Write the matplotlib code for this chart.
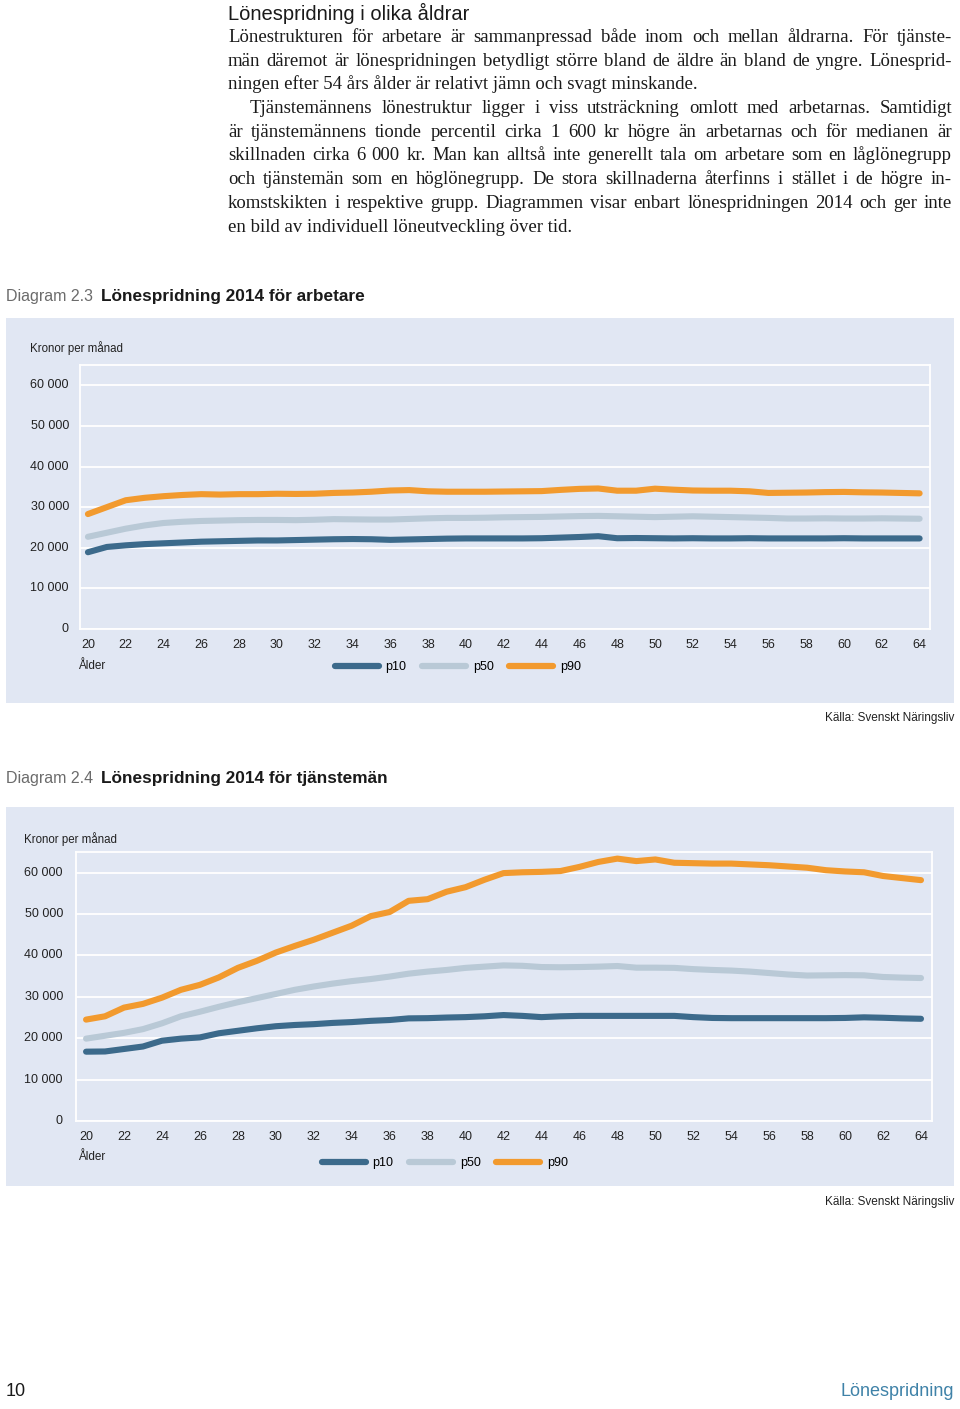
import matplotlib

matplotlib.use("Agg")
import matplotlib.pyplot as plt
from matplotlib.patches import Rectangle
from matplotlib.lines import Line2D

W, H = 960, 1409

AGES = list(range(20, 65))
XTICKS = list(range(20, 65, 2))
YTICKS = [0, 10000, 20000, 30000, 40000, 50000, 60000]
YTICK_LABELS = ["0", "10 000", "20 000", "30 000", "40 000", "50 000", "60 000"]
SERIES = ["p10", "p50", "p90"]

# Diagram 2.3 - arbetare
ARB_P10 = [18900, 20200, 20600, 20900, 21100, 21300, 21500, 21600, 21700, 21800,
           21800, 21900, 22000, 22100, 22150, 22100, 21950, 22050, 22150, 22250,
           22300, 22300, 22300, 22300, 22350, 22500, 22650, 22850, 22350, 22400,
           22350, 22300, 22350, 22300, 22300, 22350, 22300, 22300, 22300, 22300,
           22350, 22300, 22300, 22300, 22300]
ARB_P50 = [22700, 23700, 24700, 25500, 26100, 26400, 26600, 26700, 26800, 26850,
           26850, 26800, 26900, 27050, 27000, 26950, 26950, 27100, 27250, 27350,
           27350, 27400, 27500, 27550, 27600, 27700, 27800, 27850, 27750, 27650,
           27550, 27650, 27750, 27650, 27550, 27450, 27350, 27200, 27200, 27250,
           27200, 27200, 27250, 27200, 27150]
ARB_P90 = [28300, 30000, 31700, 32300, 32700, 33000, 33200, 33100, 33200, 33200,
           33300, 33250, 33300, 33500, 33600, 33800, 34100, 34200, 33900, 33800,
           33800, 33800, 33850, 33900, 33950, 34250, 34500, 34600, 34050, 34050,
           34550, 34300, 34100, 34050, 34050, 33900, 33500, 33550, 33600, 33700,
           33750, 33650, 33600, 33500, 33400]

# Diagram 2.4 - tjänstemän
TJM_P10 = [16750, 16800, 17400, 18000, 19400, 19900, 20200, 21200, 21800, 22400,
           22900, 23200, 23400, 23700, 23900, 24200, 24400, 24800, 24850, 25000,
           25100, 25300, 25600, 25400, 25100, 25300, 25400, 25400, 25400, 25400,
           25400, 25400, 25100, 24900, 24850, 24850, 24850, 24850, 24850, 24850,
           24900, 25050, 24950, 24800, 24700]
TJM_P50 = [19900, 20600, 21300, 22200, 23600, 25300, 26400, 27600, 28700, 29700,
           30700, 31700, 32500, 33200, 33800, 34300, 34900, 35600, 36100, 36500,
           37000, 37300, 37600, 37500, 37200, 37150, 37200, 37300, 37450, 37050,
           37050, 37000, 36700, 36500, 36350, 36100, 35750, 35400, 35150, 35200,
           35250, 35200, 34800, 34650, 34550]
TJM_P90 = [24500, 25300, 27400, 28300, 29800, 31700, 32900, 34700, 37000, 38700,
           40700, 42300, 43800, 45500, 47200, 49500, 50500, 53200, 53600, 55400,
           56500, 58300, 59900, 60100, 60200, 60400, 61400, 62600, 63400, 62800,
           63200, 62400, 62300, 62200, 62200, 62000, 61800, 61500, 61200, 60600,
           60300, 60100, 59200, 58700, 58200]

COLORS = {"p10": "#3c6a8b", "p50": "#b9c9d6", "p90": "#f29a2e"}
PANEL = "#e1e7f3"
SANS = ["Liberation Sans", "DejaVu Sans"]
SERIF = ["Liberation Serif", "DejaVu Serif"]

PARA1 = [
    "Lönestrukturen för arbetare är sammanpressad både inom och mellan åldrarna. För tjänste-",
    "män däremot är lönespridningen betydligt större bland de äldre än bland de yngre. Lönesprid-",
    "ningen efter 54 års ålder är relativt jämn och svagt minskande.",
]
PARA2 = [
    "Tjänstemännens lönestruktur ligger i viss utsträckning omlott med arbetarnas. Samtidigt",
    "är tjänstemännens tionde percentil cirka 1 600 kr högre än arbetarnas och för medianen är",
    "skillnaden cirka 6 000 kr. Man kan alltså inte generellt tala om arbetare som en låglönegrupp",
    "och tjänstemän som en höglönegrupp. De stora skillnaderna återfinns i stället i de högre in-",
    "komstskikten i respektive grupp. Diagrammen visar enbart lönespridningen 2014 och ger inte",
    "en bild av individuell löneutveckling över tid.",
]


def fx(px):
    return px / W


def fy(py):
    return 1 - py / H


def text_line(fig, renderer, line, x0, x1, y, justify, **kw):
    if not justify:
        fig.text(fx(x0), fy(y), line, va="baseline", **kw)
        return
    words = line.split(" ")
    texts = [fig.text(fx(x0), fy(y), w, va="baseline", **kw) for w in words]
    widths = [t.get_window_extent(renderer).width for t in texts]
    gap = (x1 - x0 - sum(widths)) / (len(words) - 1)
    x = x0
    for t, w in zip(texts, widths):
        t.set_x(fx(x))
        x += w + gap


def panel(fig, top, bottom, ax_box, data, ylab_x, ylab_y, ytick_right,
          xtick_y, alder_y, leg_x, leg_y, source_y):
    fig.add_artist(Rectangle((fx(6), fy(bottom)), fx(954) - fx(6), fy(top) - fy(bottom),
                             transform=fig.transFigure, facecolor=PANEL,
                             edgecolor="none", zorder=0))
    l, t, r, b, xlim = ax_box
    ax = fig.add_axes([fx(l), fy(b), fx(r) - fx(l), fy(t) - fy(b)])
    ax.set_facecolor(PANEL)
    ax.set_zorder(1)
    for name, vals in zip(SERIES, data):
        ax.plot(AGES, vals, color=COLORS[name], linewidth=4.4,
                solid_capstyle="round", solid_joinstyle="round", zorder=3)
    ax.set_xlim(*xlim)
    ax.set_ylim(0, 65000)
    ax.set_yticks(YTICKS)
    ax.set_yticklabels([])
    ax.set_xticks(XTICKS)
    ax.set_xticklabels([])
    ax.tick_params(length=0)
    ax.grid(axis="y", color="white", linewidth=1.3, zorder=1)
    for sp in ax.spines.values():
        sp.set_color("white")
        sp.set_linewidth(1.3)
    ax.set_axisbelow(True)

    # tick labels placed through the axes' data transform
    for v, lab in zip(YTICKS, YTICK_LABELS):
        yy = ax.transData.transform((xlim[0], v))[1]
        fig.text(fx(ytick_right), yy / H, lab, ha="right", va="center",
                 fontsize=9, family=SANS, color="#222222")
    for a in XTICKS:
        xx = ax.transData.transform((a, 0))[0]
        fig.text(xx / W, fy(xtick_y), str(a), ha="center", va="center",
                 fontsize=9, family=SANS, color="#222222")

    fig.text(fx(ylab_x), fy(ylab_y), "Kronor per månad", ha="left", va="center",
             fontsize=8.3, family=SANS, color="#222222")
    fig.text(fx(78), fy(alder_y), "Ålder", ha="left", va="center",
             fontsize=8.5, family=SANS, color="#222222")
    leg_handles = [Line2D([0], [0], color=COLORS[s], linewidth=4.5,
                          solid_capstyle="round") for s in SERIES]
    fig.legend(leg_handles, SERIES, loc="center left",
               bbox_to_anchor=(fx(leg_x), fy(leg_y)), ncol=3, frameon=False,
               handlelength=3.5, handletextpad=0.55, columnspacing=1.25,
               borderpad=0, borderaxespad=0,
               prop={"family": SANS, "size": 9})
    fig.text(fx(954), fy(source_y), "Källa: Svenskt Näringsliv", ha="right",
             va="center", fontsize=8.5, family=SANS, color="#222222")
    return ax


def main() -> None:
    fig = plt.figure(figsize=(W / 100, H / 100), dpi=100)
    fig.patch.set_facecolor("white")
    renderer = fig.canvas.get_renderer()

    fig.text(fx(228), fy(20), "Lönespridning i olika åldrar", ha="left",
             va="baseline", fontsize=14.5, family=SANS, color="#1a1a1a")

    body_kw = dict(fontsize=13.5, family=SERIF, color="#1a1a1a")
    y = 42
    for i, line in enumerate(PARA1):
        text_line(fig, renderer, line, 228, 952, y, i < len(PARA1) - 1, **body_kw)
        y += 23.7
    for i, line in enumerate(PARA2):
        x0 = 250 if i == 0 else 228
        text_line(fig, renderer, line, x0, 952, y, i < len(PARA2) - 1, **body_kw)
        y += 23.7

    for ytitle, num, title in [(296, "2.3", "Lönespridning 2014 för arbetare"),
                               (779, "2.4", "Lönespridning 2014 för tjänstemän")]:
        fig.text(fx(6), fy(ytitle), "Diagram " + num, ha="left", va="center",
                 fontsize=11.5, family=SANS, color="#6b6b6b", weight="light")
        fig.text(fx(101), fy(ytitle), title, ha="left", va="center",
                 fontsize=12.4, family=SANS, color="#1a1a1a", weight="bold")

    panel(fig, 318, 703, (80, 365, 930, 629, (19.58, 64.55)),
          [ARB_P10, ARB_P50, ARB_P90], 30, 348, 69, 645, 666, 335, 667, 718)
    panel(fig, 807, 1186, (76, 852, 932, 1121, (19.47, 64.58)),
          [TJM_P10, TJM_P50, TJM_P90], 24, 839, 63, 1137, 1157, 322, 1163, 1202)

    fig.text(fx(6), fy(1392), "10", ha="left", va="center", fontsize=13,
             family=SANS, color="#1a1a1a")
    fig.text(fx(954), fy(1392), "Lönespridning", ha="right", va="center",
             fontsize=13, family=SANS, color="#3f82a8")

    fig.savefig("out.png", dpi=100)


if __name__ == "__main__":
    main()
